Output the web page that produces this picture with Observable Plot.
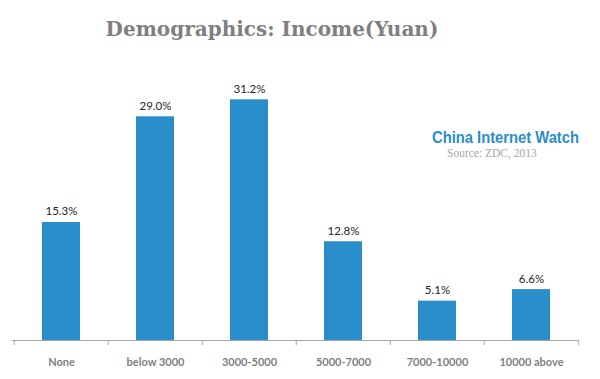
<!DOCTYPE html>
<html>
<head>
<meta charset="utf-8">
<script src="https://cdn.jsdelivr.net/npm/d3@7"></script>
<script src="https://cdn.jsdelivr.net/npm/@observablehq/plot@0.6"></script>
<style>
  html, body { margin: 0; padding: 0; background: #fff; }
  #wrap { position: relative; width: 600px; height: 379px; overflow: hidden; }
  #title { position: absolute; left: 0; width: 544px; top: 17px; text-align: center;
    font-family: "DejaVu Serif", serif; font-weight: bold; font-size: 20px; color: #7f7f7f; }
  #brand { position: absolute; left: 432px; top: 128px; font-family: "Liberation Sans", Arial, sans-serif;
    font-weight: bold; font-size: 17px; color: #2a8ecb; white-space: nowrap; transform-origin: 0 0; }
  #source { position: absolute; left: 447px; top: 147px; font-family: "Liberation Serif", serif;
    font-size: 11.5px; color: #a6a6a6; white-space: nowrap; }
  #chart { position: absolute; left: 0; top: 0; }
</style>
</head>
<body>
<div id="wrap">
  <div id="chart"></div>
  <div id="title">Demographics: Income(Yuan)</div>
  <div id="brand">China Internet Watch</div>
  <div id="source">Source: ZDC, 2013</div>
</div>
<script>
const categories = ["None", "below 3000", "3000-5000", "5000-7000", "7000-10000", "10000 above"];
const shares = [15.3, 29.0, 31.2, 12.8, 5.1, 6.6];
const shareLabels = ["15.3%", "29.0%", "31.2%", "12.8%", "5.1%", "6.6%"];

const data = categories.map((c, i) => ({category: c, share: shares[i], label: shareLabels[i]}));

const W = 600, H = 379, mL = 12, mR = 21;
const step = (W - mL - mR) / categories.length;
const lastCat = [categories[categories.length - 1]];

const chart = Plot.plot({
  width: W,
  height: H,
  marginTop: 70,
  marginBottom: 39,
  marginLeft: mL,
  marginRight: mR,
  style: {fontFamily: "Lato, 'Liberation Sans', sans-serif", background: "transparent"},
  x: {domain: categories, paddingInner: 0.6, paddingOuter: 0.3, label: null},
  y: {domain: [0, 35], axis: null},
  marks: [
    Plot.barY(data, {x: "category", y: "share", fill: "#2a8ecb"}),
    Plot.text(data, {x: "category", y: "share", text: "label", dy: -7, lineAnchor: "bottom",
      fill: "#262626", fontSize: 11.5}),
    Plot.ruleY([0], {stroke: "#a6a6a6", strokeWidth: 1}),
    Plot.ruleX(categories, {x: d => d, y1: 0, y2: 0, dx: -step / 2, insetBottom: -5, stroke: "#a6a6a6"}),
    Plot.ruleX(lastCat, {x: d => d, y1: 0, y2: 0, dx: step / 2, insetBottom: -5, stroke: "#a6a6a6"}),
    Plot.axisX({tickSize: 0, tickPadding: 18, fontSize: 11, fontWeight: "bold", fill: "#7f7f7f", label: null})
  ]
});
document.getElementById("chart").appendChild(chart);

// condense the brand text to the reference's width
const brand = document.getElementById("brand");
const bw = brand.getBoundingClientRect().width;
brand.style.transform = `scaleX(${147 / bw})`;
</script>
</body>
</html>
